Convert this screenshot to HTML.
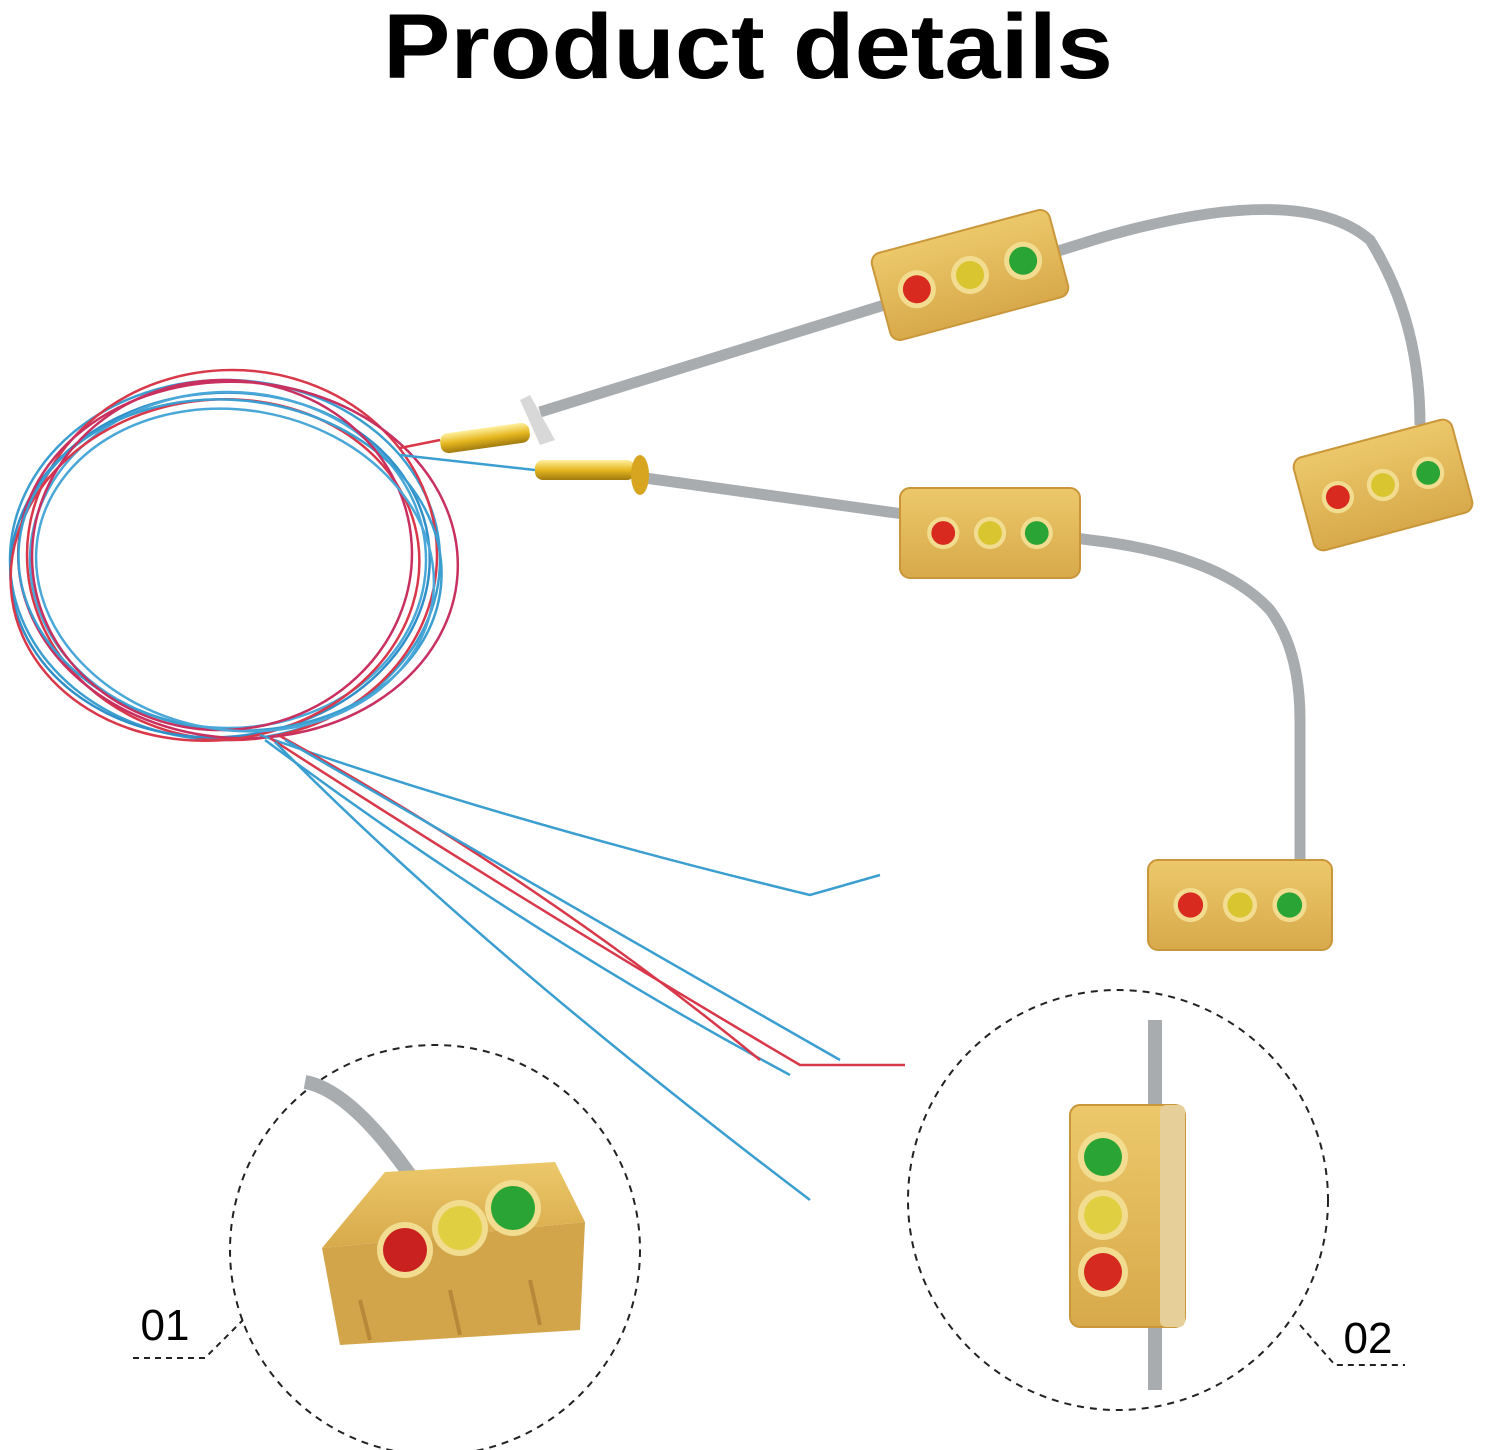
<!DOCTYPE html>
<html><head><meta charset="utf-8"><style>html,body{margin:0;padding:0;background:#fff}svg{display:block}</style></head>
<body>
<svg width="1500" height="1450" viewBox="0 0 1500 1450" xmlns="http://www.w3.org/2000/svg">
<defs>
<linearGradient id="gold" x1="0" y1="0" x2="0" y2="1"><stop offset="0" stop-color="#ecc86a"/><stop offset="1" stop-color="#d7a94a"/></linearGradient>
<linearGradient id="screw" x1="0" y1="0" x2="0" y2="1"><stop offset="0" stop-color="#fff0a0"/><stop offset="0.5" stop-color="#e6b820"/><stop offset="1" stop-color="#a07a10"/></linearGradient>
<g id="leds">
<circle cx="-55" cy="0" r="19" fill="#f2dc90"/><circle cx="-55" cy="0" r="14" fill="#d92a20"/>
<circle cx="0" cy="0" r="19" fill="#f2dc90"/><circle cx="0" cy="0" r="14" fill="#d9c530"/>
<circle cx="55" cy="0" r="19" fill="#f2dc90"/><circle cx="55" cy="0" r="14" fill="#2aa535"/>
</g>
</defs>
<text x="748" y="78" text-anchor="middle" font-family="Liberation Sans, sans-serif" font-weight="bold" font-size="92" textLength="730" lengthAdjust="spacingAndGlyphs" fill="#000">Product details</text>

<!-- cables -->
<path d="M540,412 L1100,238 Q1300,180 1370,240 Q1420,320 1420,425" fill="none" stroke="#a8acaf" stroke-width="11"/>
<path d="M645,478 L1090,540 Q1220,555 1270,610 Q1300,650 1300,720 L1300,860" fill="none" stroke="#a8acaf" stroke-width="11"/>

<!-- screws -->
<rect x="440" y="428" width="90" height="20" rx="8" fill="url(#screw)" transform="rotate(-8 485 438)"/>
<polygon points="520,400 530,395 555,440 540,445" fill="#d8d8d8"/>
<rect x="535" y="460" width="100" height="20" rx="8" fill="url(#screw)"/>
<ellipse cx="640" cy="475" rx="9" ry="20" fill="#d8a520"/>

<!-- wires loop -->
<g fill="none" stroke-width="2.5">
<ellipse cx="225" cy="560" rx="215" ry="180" stroke="#3a9fd0"/>
<ellipse cx="232" cy="555" rx="205" ry="185" stroke="#d8384a"/>
<ellipse cx="220" cy="565" rx="210" ry="172" stroke="#2f8fc8" transform="rotate(-5 220 565)"/>
<ellipse cx="238" cy="560" rx="220" ry="178" stroke="#c83060" transform="rotate(4 238 560)"/>
<ellipse cx="228" cy="560" rx="198" ry="168" stroke="#4aa8d8"/>
<ellipse cx="215" cy="570" rx="205" ry="170" stroke="#d8384a" transform="rotate(-8 215 570)"/>
<ellipse cx="230" cy="565" rx="212" ry="165" stroke="#3a9fd0" transform="rotate(6 230 565)"/>
<ellipse cx="222" cy="555" rx="190" ry="175" stroke="#c83060" transform="rotate(-3 222 555)"/>
<ellipse cx="235" cy="570" rx="200" ry="160" stroke="#4aa8d8" transform="rotate(10 235 570)"/>
<path d="M400,455 L535,470" stroke="#3a9fd0"/>
<path d="M400,448 L440,440" stroke="#d8384a"/>
<path d="M260,735 Q500,820 810,895 L880,875" stroke="#3a9fd0"/>
<path d="M270,738 Q520,900 800,1065 L905,1065" stroke="#d8384a"/>
<path d="M265,740 Q520,930 790,1075" stroke="#3a9fd0"/>
<path d="M275,742 Q480,950 810,1200" stroke="#3a9fd0"/>
<path d="M280,736 Q540,880 760,1060" stroke="#d8384a"/>
<path d="M285,740 Q560,900 840,1060" stroke="#3a9fd0"/>
</g>

<!-- traffic lights -->
<g transform="translate(970,275) rotate(-15)"><rect x="-92" y="-45" width="184" height="90" rx="10" fill="url(#gold)" stroke="#c9973a" stroke-width="2"/><use href="#leds"/></g>
<g transform="translate(1383,485) rotate(-15)"><rect x="-82" y="-48" width="164" height="96" rx="10" fill="url(#gold)" stroke="#c9973a" stroke-width="2"/><g transform="scale(0.85)"><use href="#leds"/></g></g>
<g transform="translate(990,533)"><rect x="-90" y="-45" width="180" height="90" rx="10" fill="url(#gold)" stroke="#c9973a" stroke-width="2"/><g transform="scale(0.85)"><use href="#leds"/></g></g>
<g transform="translate(1240,905)"><rect x="-92" y="-45" width="184" height="90" rx="10" fill="url(#gold)" stroke="#c9973a" stroke-width="2"/><g transform="scale(0.9)"><use href="#leds"/></g></g>

<!-- circle 1 -->
<circle cx="435" cy="1250" r="205" fill="none" stroke="#222" stroke-width="2" stroke-dasharray="7,6"/>
<path d="M305,1082 Q350,1090 410,1175" fill="none" stroke="#a8acaf" stroke-width="14"/>
<path d="M322,1248 L585,1222 L580,1330 L340,1345 Z" fill="#d3a54a"/>
<path d="M322,1248 L385,1172 L555,1162 L585,1222 Z" fill="url(#gold)"/>
<path d="M360,1300 L370,1340 M450,1290 L460,1335 M530,1280 L540,1325" stroke="#b8883a" stroke-width="4"/>
<circle cx="405" cy="1250" r="28" fill="#f2dc90"/><circle cx="405" cy="1250" r="22" fill="#c92020"/>
<circle cx="460" cy="1228" r="28" fill="#f2dc90"/><circle cx="460" cy="1228" r="22" fill="#e0cf40"/>
<circle cx="513" cy="1208" r="28" fill="#f2dc90"/><circle cx="513" cy="1208" r="22" fill="#2aa535"/>
<text x="165" y="1340" text-anchor="middle" font-family="Liberation Sans, sans-serif" font-size="44" fill="#000">01</text>
<path d="M133,1358 L205,1358 L243,1320" fill="none" stroke="#222" stroke-width="2" stroke-dasharray="6,5"/>

<!-- circle 2 -->
<circle cx="1118" cy="1200" r="210" fill="none" stroke="#222" stroke-width="2" stroke-dasharray="7,6"/>
<path d="M1155,1020 L1155,1390" stroke="#a8acaf" stroke-width="14"/>
<rect x="1070" y="1105" width="115" height="222" rx="10" fill="url(#gold)" stroke="#c9973a" stroke-width="2"/>
<rect x="1160" y="1105" width="25" height="222" rx="6" fill="#e6cf98"/>
<circle cx="1103" cy="1157" r="25" fill="#f2dc90"/><circle cx="1103" cy="1157" r="19" fill="#2aa535"/>
<circle cx="1103" cy="1215" r="25" fill="#f2dc90"/><circle cx="1103" cy="1215" r="19" fill="#e0cf40"/>
<circle cx="1103" cy="1272" r="25" fill="#f2dc90"/><circle cx="1103" cy="1272" r="19" fill="#d52a20"/>
<text x="1368" y="1353" text-anchor="middle" font-family="Liberation Sans, sans-serif" font-size="44" fill="#000">02</text>
<path d="M1300,1325 L1335,1365 L1405,1365" fill="none" stroke="#222" stroke-width="2" stroke-dasharray="6,5"/>
</svg>
</body></html>
